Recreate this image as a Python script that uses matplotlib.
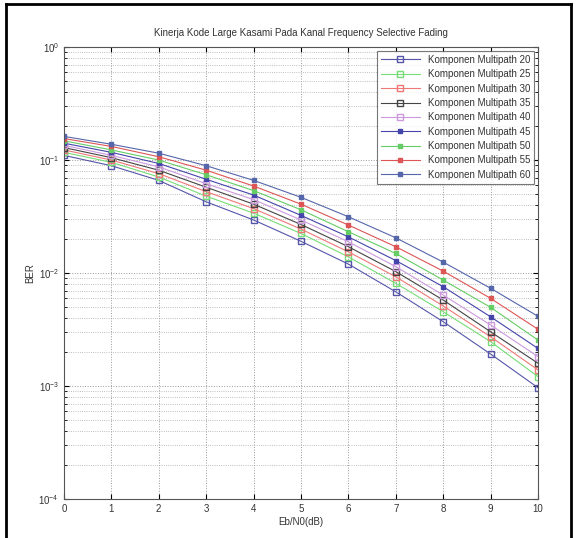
import matplotlib.pyplot as plt
from matplotlib.lines import Line2D

plt.rcParams['font.family'] = ['Liberation Sans', 'DejaVu Sans']

ebn0 = [0, 1, 2, 3, 4, 5, 6, 7, 8, 9, 10]

multipath = [20, 25, 30, 35, 40, 45, 50, 55, 60]

ber_20 = [0.110, 0.0891, 0.0661, 0.0427, 0.0295, 0.0191, 0.0120, 0.00682, 0.00371, 0.00192, 0.000966]
ber_25 = [0.117, 0.0955, 0.0708, 0.0479, 0.0339, 0.0224, 0.0139, 0.00811, 0.00455, 0.00247, 0.00121]
ber_30 = [0.123, 0.100, 0.0759, 0.0525, 0.0372, 0.0245, 0.0154, 0.00927, 0.00511, 0.00273, 0.00139]
ber_35 = [0.129, 0.105, 0.0813, 0.0575, 0.0407, 0.0269, 0.0171, 0.0103, 0.00577, 0.00302, 0.00159]
ber_40 = [0.135, 0.110, 0.0871, 0.0617, 0.0447, 0.0295, 0.0189, 0.0114, 0.00638, 0.00347, 0.00182]
ber_45 = [0.141, 0.117, 0.0933, 0.0676, 0.0490, 0.0324, 0.0209, 0.0129, 0.00757, 0.00410, 0.00215]
ber_50 = [0.148, 0.123, 0.100, 0.0741, 0.0537, 0.0363, 0.0232, 0.0149, 0.00867, 0.00497, 0.00255]
ber_55 = [0.155, 0.132, 0.107, 0.0813, 0.0589, 0.0407, 0.0266, 0.0171, 0.0104, 0.00597, 0.00318]
ber_60 = [0.162, 0.138, 0.115, 0.0891, 0.0661, 0.0468, 0.0315, 0.0205, 0.0125, 0.00733, 0.00414]

all_ber = [ber_20, ber_25, ber_30, ber_35, ber_40, ber_45, ber_50, ber_55, ber_60]

colors = ['#5555aa', '#77dd77', '#ee7777', '#444444', '#cc99dd',
          '#4444aa', '#66cc66', '#dd5555', '#5566aa']
filled = [False, False, False, False, False, True, True, True, True]

fig = plt.figure(figsize=(5.76, 5.38), dpi=100)
ax = fig.add_axes([0.111, 0.0725, 0.823, 0.840])

for mp, ber, c, f in zip(multipath, all_ber, colors, filled):
    ax.semilogy(ebn0, ber, color=c, lw=0.8, marker='s',
                markersize=5 if not f else 3.5,
                markerfacecolor=c if f else 'none', markeredgecolor=c,
                label='Komponen Multipath %d' % mp)

ax.set_xlim(0, 10)
ax.set_ylim(1e-4, 1)
ax.set_xticks(ebn0)
ax.grid(True, which='major', linestyle=':', color='#999999', lw=0.7)
ax.grid(True, which='minor', axis='y', linestyle=':', color='#aaaaaa', lw=0.6)
ax.tick_params(which='both', direction='in', top=True, right=True, labelsize=7,
               labelcolor='#333333')
for s in ax.spines.values():
    s.set_color('#555555')
    s.set_linewidth(0.8)

ax.set_title('Kinerja Kode Large Kasami Pada Kanal Frequency Selective Fading',
             fontsize=7, pad=8, color='#333333')
ax.set_xlabel('Eb/N0(dB)', fontsize=7, labelpad=2, color='#333333')
ax.set_ylabel('BER', fontsize=7, labelpad=2, color='#333333')

leg = ax.legend(loc='upper right', fontsize=7, frameon=True, fancybox=False,
                edgecolor='#555555', borderaxespad=0.4, handlelength=4,
                labelspacing=0.45, borderpad=0.4)
leg.get_frame().set_linewidth(0.8)
for t in leg.get_texts():
    t.set_color('#333333')

# black frame of the screenshot
fig.add_artist(Line2D([0.010, 0.010], [0.0, 0.993], transform=fig.transFigure,
                      color='black', lw=2))
fig.add_artist(Line2D([0.010, 0.992], [0.993, 0.993], transform=fig.transFigure,
                      color='black', lw=2))
fig.add_artist(Line2D([0.992, 0.992], [0.0, 0.993], transform=fig.transFigure,
                      color='black', lw=2))

fig.savefig('out.png', dpi=100)
